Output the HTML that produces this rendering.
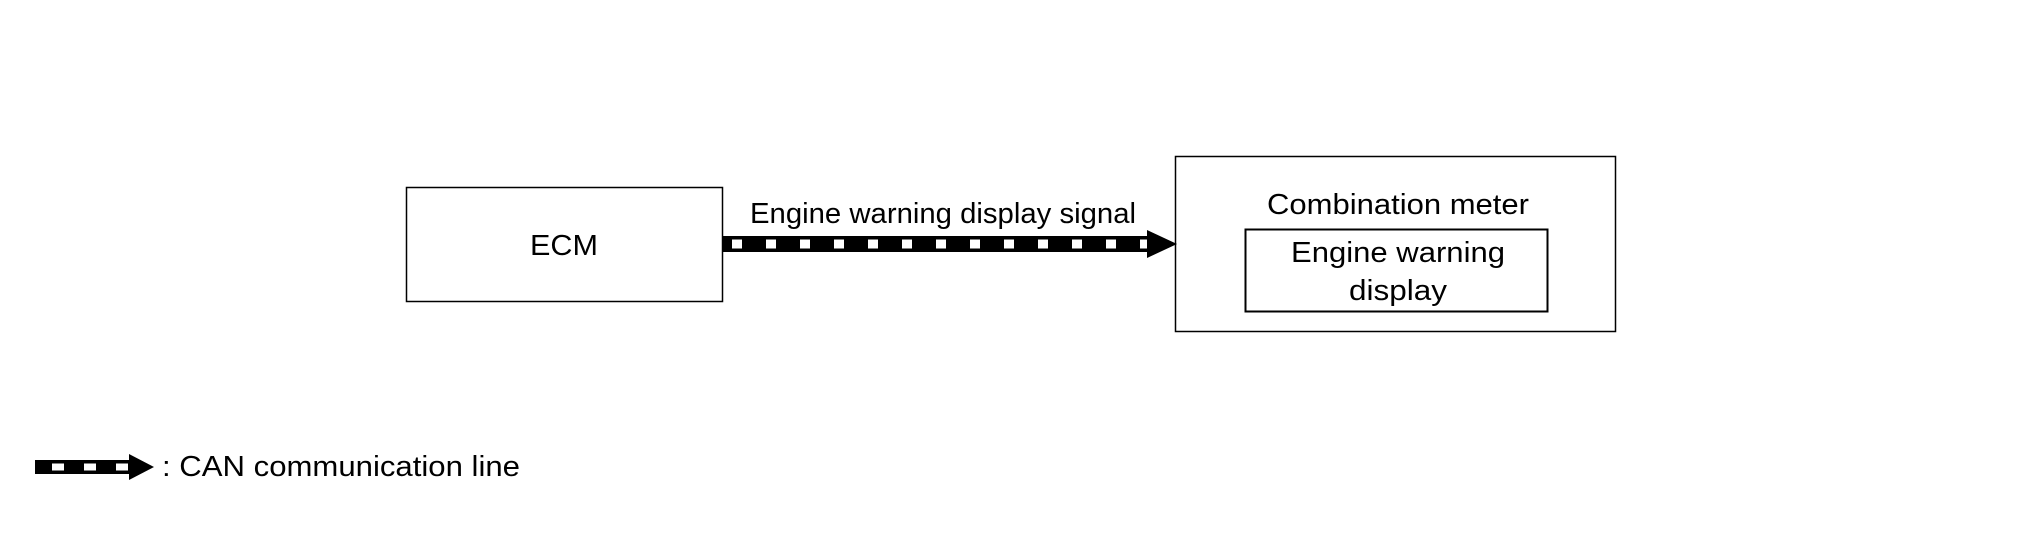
<!DOCTYPE html>
<html><head><meta charset="utf-8"><style>html,body{margin:0;padding:0;background:#fff}</style></head>
<body>
<svg width="2020" height="544" viewBox="0 0 2020 544" xmlns="http://www.w3.org/2000/svg" font-family="Liberation Sans, Arial, sans-serif" fill="#000">
<rect x="406.5" y="187.5" width="316" height="114" fill="none" stroke="#000" stroke-width="1.5"/>
<rect x="1175.5" y="156.5" width="440" height="175" fill="none" stroke="#000" stroke-width="1.5"/>
<rect x="1245.5" y="229.5" width="302" height="82" fill="none" stroke="#000" stroke-width="2"/>
<text x="564" y="255" font-size="29" text-anchor="middle" textLength="68" lengthAdjust="spacingAndGlyphs">ECM</text>
<text x="943" y="223" font-size="29" text-anchor="middle" textLength="386" lengthAdjust="spacingAndGlyphs">Engine warning display signal</text>
<text x="1398" y="214" font-size="29" text-anchor="middle" textLength="262" lengthAdjust="spacingAndGlyphs">Combination meter</text>
<text x="1398" y="262" font-size="29" text-anchor="middle" textLength="214" lengthAdjust="spacingAndGlyphs">Engine warning</text>
<text x="1398" y="300" font-size="29" text-anchor="middle" textLength="98" lengthAdjust="spacingAndGlyphs">display</text>
<!-- main arrow -->
<rect x="723" y="236" width="428" height="16"/>
<line x1="732" y1="244" x2="1151" y2="244" stroke="#fff" stroke-width="9" stroke-dasharray="10 24"/>
<polygon points="1147,230 1177,244 1147,258"/>
<!-- legend -->
<rect x="35" y="460" width="98" height="14"/>
<line x1="52" y1="467" x2="130" y2="467" stroke="#fff" stroke-width="7" stroke-dasharray="12 20"/>
<polygon points="129,454 154,467 129,480"/>
<text x="162" y="476" font-size="29" textLength="358" lengthAdjust="spacingAndGlyphs">: CAN communication line</text>
</svg>
</body></html>
